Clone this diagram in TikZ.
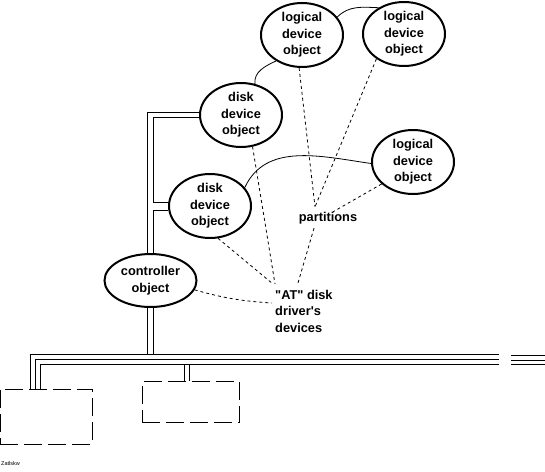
\documentclass[tikz,border=0pt]{standalone}
\usepackage{fontspec}
\setmainfont{Liberation Sans}[Ligatures=TeXOff]
\usetikzlibrary{shapes.geometric}

\begin{document}
\begin{tikzpicture}[x=1pt, y=-1pt, font=\bfseries\fontsize{12.8}{16.5}\selectfont,
		obj_style/.style={ellipse,draw=black,line width=2pt,inner sep=0pt,minimum width=82pt,minimum height=64pt,align=center},
		link_style/.style={draw=black,line width=0.8pt},
		ref_style/.style={draw=black,line width=0.8pt,dash pattern=on 3pt off 3pt},
		bus_style/.style={draw=black,line width=1pt},
		card_style/.style={draw=black,line width=1pt,dash pattern=on 18pt off 6pt,inner sep=0pt}]
		
		\useasboundingbox (0,0) rectangle (545,471);
		
		\node[obj_style] (ld1) at (302,35)  {logical\\device\\object};
		\node[obj_style] (ld2) at (404,34)  {logical\\device\\object};
		\node[obj_style] (ld3) at (413,162) {logical\\device\\object};
		\node[obj_style] (dd1) at (241,115) {disk\\device\\object};
		\node[obj_style] (dd2) at (210,206) {disk\\device\\object};
		\node[obj_style,minimum width=92pt,minimum height=53pt] (ctrl) at (150.5,280.5) {controller\\object};
		\node[inner sep=0pt] (parts) at (328,218) {partitions};
		\node[inner sep=0pt,align=left,anchor=north west] (atdrv) at (275,290) {"AT" disk\\driver's\\devices};
		\node[font=\fontsize{5.5}{6}\selectfont,anchor=west,inner sep=0pt] (tag) at (1,464) {Zatlskw};
		
		\node[card_style,minimum width=92pt,minimum height=55pt] (box1) at (46,416.5) {};
		\node[card_style,minimum width=97.5pt,minimum height=40.5pt] (box2) at (191,402) {};
		
		% points where the dotted references meet
		\coordinate (ptin) at ([shift={(-13pt,5pt)}]parts.north);
		\coordinate (ptout) at ([shift={(-14pt,-4pt)}]parts.south);
		\coordinate (atin) at ([yshift=6pt]atdrv.north west);
		
		% bus ends
		\coordinate (bus1) at (499,354);
		\coordinate (bus3) at (499,364);
		\coordinate (stub) at (511,355.5);
		
		\draw[link_style] (dd1.66) to[out=95,in=205] (ld1.225);
		\draw[link_style] (ld1.27) to[out=45,in=178] (ld2.134);
		\draw[link_style] (dd2.28) to[out=65,in=172] (ld3.182);
		
		\draw[ref_style] (ld1.265) -- (ptin);
		\draw[ref_style] (ld2.222) -- (ptin);
		\draw[ref_style] (ld3.215) -- ([xshift=5pt]parts.north);
		\draw[ref_style] (ptout) -- ([shift={(23pt,7pt)}]atdrv.north west);
		\draw[ref_style] (dd1.290) -- (atin);
		\draw[ref_style] (dd2.284) -- ([xshift=-2pt]atin);
		\draw[ref_style] (ctrl.348) to[bend right=6] ([shift={(-3pt,-13pt)}]atdrv.north west);
		
		\draw[bus_style] ([yshift=2.5pt]dd1.west) -| ([xshift=-2.75pt]ctrl.north);
		\draw[bus_style] ([yshift=-2.5pt]dd1.west) -| ([xshift=2.75pt,yshift=4pt]ctrl.north |- dd2.west) -- ([yshift=4pt]dd2.west);
		\draw[bus_style] ([yshift=-4pt]dd2.west) -| ([xshift=2.75pt]ctrl.north);
		\draw[bus_style] ([xshift=-2.75pt]ctrl.south) -- ([xshift=-2.75pt]ctrl.south |- bus1);
		\draw[bus_style] ([xshift=2.75pt]ctrl.south) -- ([xshift=2.75pt]ctrl.south |- bus1);
		
		\draw[bus_style] ([xshift=31pt]box1.north west) |- (bus1);
		\draw[bus_style] ([xshift=36pt]box1.north west) |- ([yshift=-5pt]bus1);
		\draw[bus_style] ([xshift=41pt]box1.north west) |- (bus3);
		\draw[bus_style] ([xshift=-7pt]box2.north) -- ([xshift=-7pt]box2.north |- bus3);
		\draw[bus_style] ([xshift=-2pt]box2.north) -- ([xshift=-2pt]box2.north |- bus3);
		
		\foreach \dy in {0,4.5,9}
			\draw[bus_style] ([yshift=-\dy pt]stub) -- ++(34,0);
		
\end{tikzpicture}
\end{document}
